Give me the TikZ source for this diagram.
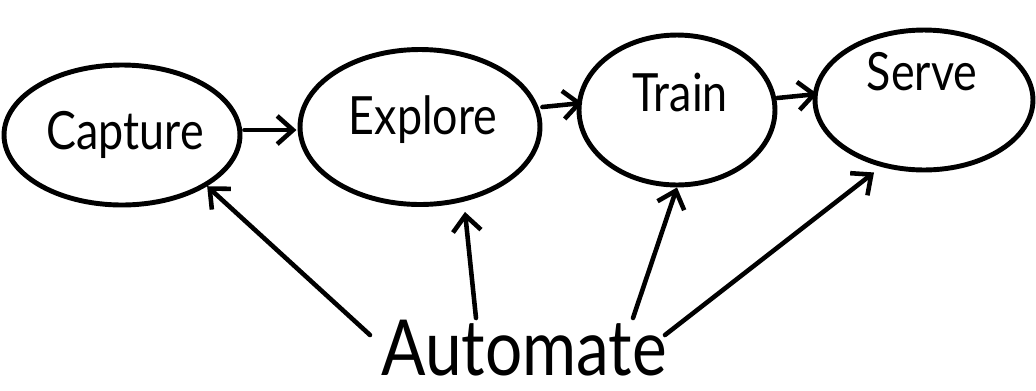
\documentclass[tikz,border=0pt]{standalone}
\usepackage{fontspec}
\setmainfont{Lato}
\usetikzlibrary{arrows.meta,shapes.geometric,calc}
\begin{document}
\begin{tikzpicture}[x=0.02cm,y=-0.02cm,
  stage/.style={ellipse,draw,line width=2.8pt,inner sep=0pt},
  lab/.style={font=\fontsize{30}{30}\selectfont,xscale=0.85},
  link/.style={line width=2.6pt,-{Straight Barb[length=9pt,width=16pt,line width=2.6pt]},line cap=round}]
\useasboundingbox (0,0) rectangle (1036,390);
\node[stage,minimum width=4.72cm,minimum height=2.8cm] (cap) at (122,135) {};
\node[stage,minimum width=4.8cm,minimum height=3.1cm] (exp) at (420,127) {};
\node[stage,minimum width=3.92cm,minimum height=3.0cm] (tra) at (677,110) {};
\node[stage,minimum width=4.36cm,minimum height=2.8cm] (ser) at (924,100) {};
\node[lab] (tcap) at (125,135) {Capture};
\node[lab] (texp) at (423,120) {Explore};
\node[lab] (ttra) at (680,92) {Train};
\node[lab] (tser) at (922,72) {Serve};
\node[font=\fontsize{44}{44}\selectfont,xscale=0.85] (aut) at (524,348) {Automate};
\coordinate (a1) at (370,335);
\coordinate (a2) at (476,318);
\coordinate (a3) at (633,318);
\coordinate (a4) at (665,335);
\draw[link] (cap.east) ++(2,-5) -- ++(52,0);
\draw[link] (exp.east) ++(0,-20) -- ++(40,-4);
\draw[link] (tra.east) ++(0,-12) -- ++(40,-4);
\draw[link] (a1) -- (cap.south east);
\draw[link] (a2) -- ($(exp.south)+(45,5)$);
\draw[link] (a3) -- (tra.south);
\draw[link] (a4) -- ($(ser.south)+(-50,0)$);
\end{tikzpicture}
\end{document}
